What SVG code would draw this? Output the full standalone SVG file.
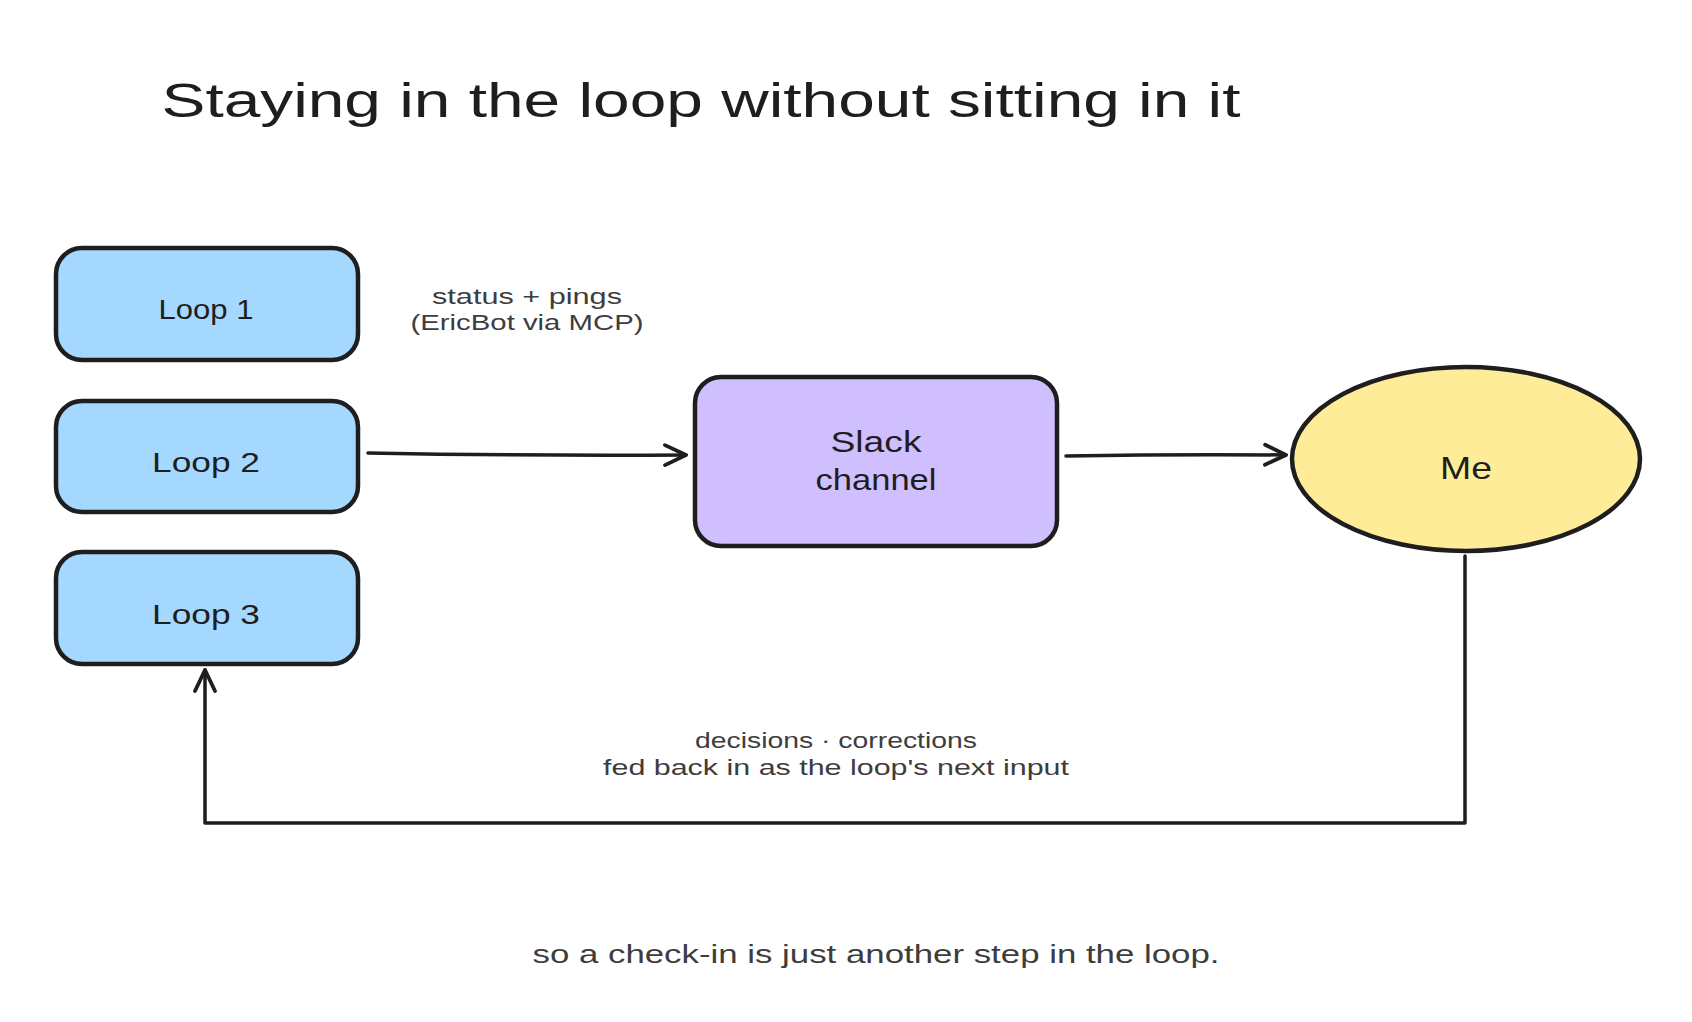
<svg xmlns="http://www.w3.org/2000/svg" width="1692" height="1022" viewBox="0 0 1692 1022">
<defs>
<style>
.box{stroke:#1e1e1e;stroke-width:4.5;stroke-linejoin:round}
.loop{fill:#a5d8ff}
.slack{fill:#d0bfff}
.me{fill:#ffec99}
.lbl{font-family:"Liberation Sans",Arial,sans-serif;fill:#1e1e1e;text-anchor:middle}
.note{font-family:"Liberation Sans",Arial,sans-serif;fill:#3d3d3d;text-anchor:middle}
.conn{fill:none;stroke:#1e1e1e;stroke-width:3.5;stroke-linecap:round;stroke-linejoin:round}
</style>
<marker id="arr" viewBox="0 0 26 26" refX="24" refY="13" markerWidth="26" markerHeight="26" markerUnits="userSpaceOnUse" orient="auto">
<path d="M3,3 L24,13 L3,23" fill="none" stroke="#1e1e1e" stroke-width="3.8" stroke-linecap="round" stroke-linejoin="round"/>
</marker>
</defs>
<rect width="1692" height="1022" fill="#ffffff"/>
<text class="lbl" x="701" y="117" font-size="48" textLength="1079" lengthAdjust="spacingAndGlyphs">Staying in the loop without sitting in it</text>

<g id="loop1">
<rect class="box loop" x="56" y="248" width="302" height="112" rx="26"/>
<text class="lbl" x="206" y="319" font-size="28" textLength="95" lengthAdjust="spacingAndGlyphs">Loop 1</text>
</g>
<g id="loop2">
<rect class="box loop" x="56" y="401" width="302" height="111" rx="26"/>
<text class="lbl" x="206" y="472" font-size="28" textLength="108" lengthAdjust="spacingAndGlyphs">Loop 2</text>
</g>
<g id="loop3">
<rect class="box loop" x="56" y="552" width="302" height="112" rx="26"/>
<text class="lbl" x="206" y="624" font-size="28" textLength="108" lengthAdjust="spacingAndGlyphs">Loop 3</text>
</g>
<g id="slack">
<rect class="box slack" x="695" y="377" width="362" height="169" rx="26"/>
<text class="lbl" x="876" y="452" font-size="30" textLength="91" lengthAdjust="spacingAndGlyphs">Slack</text>
<text class="lbl" x="876" y="490" font-size="30" textLength="121" lengthAdjust="spacingAndGlyphs">channel</text>
</g>
<g id="me">
<ellipse class="box me" cx="1466" cy="459" rx="174" ry="92"/>
<text class="lbl" x="1466" y="479" font-size="32" textLength="52" lengthAdjust="spacingAndGlyphs">Me</text>
</g>

<g id="connectors">
<path class="conn" d="M368,453 Q530,456 686,455" marker-end="url(#arr)"/>
<path class="conn" d="M1066,456 Q1180,454 1286,455" marker-end="url(#arr)"/>
<path class="conn" d="M1465,556 L1465,823 L205,823 L205,670" marker-end="url(#arr)"/>
</g>

<g id="labels">
<text class="note" x="527" y="304" font-size="22" textLength="190" lengthAdjust="spacingAndGlyphs">status + pings</text>
<text class="note" x="527" y="330" font-size="22" textLength="233" lengthAdjust="spacingAndGlyphs">(EricBot via MCP)</text>
<text class="note" x="836" y="748" font-size="22" textLength="282" lengthAdjust="spacingAndGlyphs">decisions · corrections</text>
<text class="note" x="836" y="775" font-size="22" textLength="466" lengthAdjust="spacingAndGlyphs">fed back in as the loop's next input</text>
<text class="note" x="876" y="963" font-size="26" textLength="687" lengthAdjust="spacingAndGlyphs">so a check-in is just another step in the loop.</text>
</g>
</svg>
